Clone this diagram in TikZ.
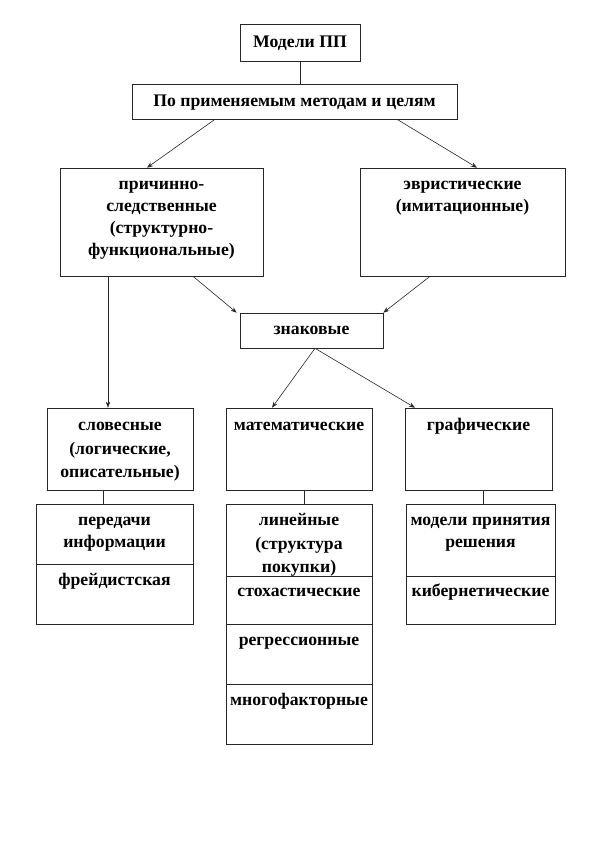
\documentclass[tikz,border=0pt]{standalone}
\usepackage{fontspec}
\setmainfont{Liberation Serif}
\usetikzlibrary{arrows.meta}
\newcommand\fs{\rule{0pt}{14pt}}
\tikzset{
  box/.style={draw=black!85, line width=0.6pt, inner sep=0pt, fill=white},
  txt/.style={font=\fontsize{17.7}{22}\selectfont\bfseries, align=center, inner sep=0pt, anchor=north},
  txtw/.style={txt, font=\fontsize{17.7}{23.5}\selectfont\bfseries},
  con/.style={draw=black!85, line width=0.6pt},
  arr/.style={con, -{Stealth[length=6pt,width=4.5pt]}}
}
\newcommand\bx[5]{\node[box,minimum width={#4pt-#2pt},minimum height={#5pt-#3pt}] (#1) at ({(#2+#4)/2},{(#3+#5)/2}) {};}
\begin{document}
\begin{tikzpicture}[x=1pt,y=-1pt]
\useasboundingbox (0,0) rectangle (612,864);
% boxes
\bx{mp}{240}{24}{360}{61}
\bx{pm}{132}{84}{457}{119}
\bx{pr}{60}{168}{263}{276}
\bx{ev}{360}{168}{565}{276}
\bx{zn}{240}{313}{383}{348}
\bx{sl}{47}{408}{193}{490}
\bx{ma}{226}{408}{372}{490}
\bx{gr}{405}{408}{552}{490}
\bx{pi}{36}{504}{193}{564}
\bx{fr}{36}{564}{193}{624}
\bx{li}{226}{504}{372}{576}
\bx{st}{226}{576}{372}{624}
\bx{re}{226}{624}{372}{684}
\bx{mn}{226}{684}{372}{744}
\bx{mr}{406}{504}{555}{576}
\bx{ki}{406}{576}{555}{624}
% texts
\node[txt] (mpt) at ([yshift=-10pt]mp.north) {\fs Модели ПП};
\node[txt] (pmt) at ([yshift=-9pt]pm.north) {\fs По применяемым методам и целям};
\node[txt] (prt) at ([yshift=-8pt]pr.north) {\fs причинно-\\следственные\\(структурно-\\функциональные)};
\node[txt] (evt) at ([yshift=-8pt]ev.north) {\fs эвристические\\(имитационные)};
\node[txt] (znt) at ([yshift=-8pt]zn.north) {\fs знаковые};
\node[txtw] (slt) at ([yshift=-9pt]sl.north) {\fs словесные\\(логические,\\описательные)};
\node[txt] (mat) at ([yshift=-9pt]ma.north) {\fs математические};
\node[txt] (grt) at ([yshift=-9pt]gr.north) {\fs графические};
\node[txt] (pit) at ([yshift=-8pt]pi.north) {\fs передачи\\информации};
\node[txt] (frt) at ([yshift=-8pt]fr.north) {\fs фрейдистская};
\node[txtw] (lit) at ([yshift=-8pt]li.north) {\fs линейные\\(структура\\покупки)};
\node[txt] (stt) at ([yshift=-7pt]st.north) {\fs стохастические};
\node[txt] (ret) at ([yshift=-8pt]re.north) {\fs регрессионные};
\node[txt] (mnt) at ([yshift=-8pt]mn.north) {\fs многофакторные};
\node[txt] (mrt) at ([yshift=-8pt]mr.north) {\fs модели принятия\\решения};
\node[txt] (kit) at ([yshift=-7pt]ki.north) {\fs кибернетические};
% connectors
\draw[con] (mp.south) -- (mp.south |- pm.north);
\draw[arr] ([xshift=-79.5pt]pm.south) -- ([xshift=-14.5pt]pr.north);
\draw[arr] ([xshift=102.5pt]pm.south) -- ([xshift=14.5pt]ev.north);
\draw[arr] ([xshift=31.5pt]pr.south) -- ([xshift=-3pt]zn.north west);
\draw[arr] ([xshift=-32.5pt]ev.south) -- (zn.north east);
\draw[arr] ([xshift=-53.5pt]pr.south) -- ([xshift=-12pt]sl.north);
\draw[arr] ([xshift=3.5pt]zn.south) -- ([xshift=-27pt]ma.north);
\draw[arr] ([xshift=3.5pt]zn.south) -- ([xshift=-63.5pt]gr.north);
\draw[con] ([xshift=-17pt]sl.south) -- ([xshift=-11.5pt]pi.north);
\draw[con] ([xshift=5pt]ma.south) -- ([xshift=5pt]li.north);
\draw[con] ([xshift=4.5pt]gr.south) -- ([xshift=2.5pt]mr.north);
\end{tikzpicture}
\end{document}
